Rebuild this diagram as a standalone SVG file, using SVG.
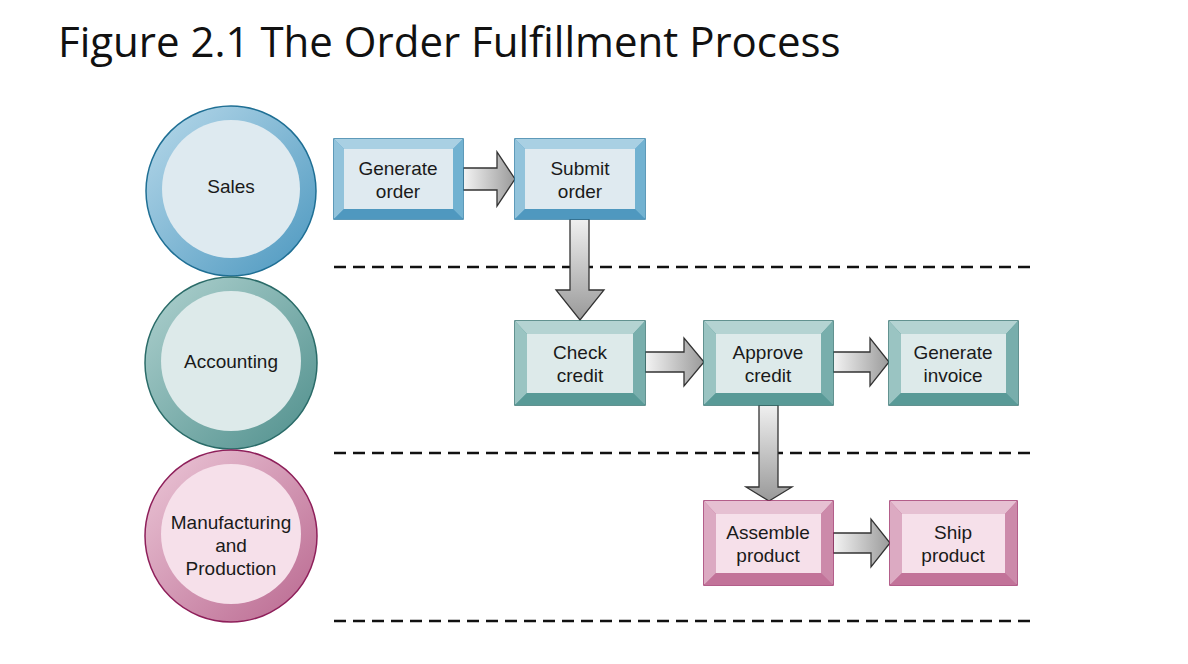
<svg xmlns="http://www.w3.org/2000/svg" width="1188" height="664" viewBox="0 0 1188 664">
<style>
text{font-family:"Liberation Sans",Arial,sans-serif;fill:#1a1a1a;text-anchor:middle}
.t{font-size:19px}
.dash{stroke:#111;stroke-width:2.5;stroke-dasharray:12 7;fill:none}
.arr{fill:url(#ag);stroke:#333;stroke-width:1.3}
.varr{fill:url(#vg);stroke:#333;stroke-width:1.3}
</style>
<defs>
<linearGradient id="ag" x1="0" y1="0" x2="1" y2="0"><stop offset="0" stop-color="#f4f4f4"/><stop offset="1" stop-color="#9a9a9a"/></linearGradient>
<linearGradient id="vg" x1="0" y1="0" x2="0" y2="1"><stop offset="0" stop-color="#f0f0f0"/><stop offset="1" stop-color="#999"/></linearGradient>
<linearGradient id="cb" x1="0" y1="0" x2="1" y2="1"><stop offset="0" stop-color="#b8d9ea"/><stop offset="1" stop-color="#4b97bf"/></linearGradient>
<linearGradient id="ct" x1="0" y1="0" x2="1" y2="1"><stop offset="0" stop-color="#b0d2d0"/><stop offset="1" stop-color="#4f8f8c"/></linearGradient>
<linearGradient id="cp" x1="0" y1="0" x2="1" y2="1"><stop offset="0" stop-color="#ecc8d8"/><stop offset="1" stop-color="#b9678f"/></linearGradient>
</defs>
<text x="58" y="57" style="font-family:'Open Sans','Noto Sans',sans-serif;font-size:42px;text-anchor:start;fill:#111">Figure 2.1 The Order Fulfillment Process</text>

<g id="lane-lines">
<line class="dash" x1="334" y1="267" x2="1032" y2="267"/>
<line class="dash" x1="334" y1="453" x2="1032" y2="453"/>
<line class="dash" x1="334" y1="621" x2="1032" y2="621"/>
</g>

<g id="sales"><circle cx="231" cy="191" r="85" fill="url(#cb)" stroke="#1f6f94" stroke-width="1.5"/><circle cx="231" cy="189" r="69" fill="#deeaf0"/><text class="t" x="231" y="193">Sales</text></g>
<g id="accounting"><circle cx="231" cy="363" r="86" fill="url(#ct)" stroke="#2a6b68" stroke-width="1.5"/><circle cx="231" cy="361" r="70" fill="#ddeaea"/><text class="t" x="231" y="368">Accounting</text></g>
<g id="manufacturing"><circle cx="231" cy="536" r="86" fill="url(#cp)" stroke="#8e1f5a" stroke-width="1.5"/><circle cx="231" cy="534" r="70" fill="#f6e0ea"/><text class="t" x="231" y="529">Manufacturing</text><text class="t" x="231" y="552">and</text><text class="t" x="231" y="575">Production</text></g>

<g id="connectors">
<path class="arr" d="M463,168 H497 V152 L515,179 L497,206 V190 H463 Z"/>
<path class="varr" d="M570,219 V290 H556 L580,320 L604,290 H589 V219 Z"/>
<path class="arr" d="M645,352 H684 V338 L704,362 L684,386 V372 H645 Z"/>
<path class="arr" d="M833,352 H870 V338 L889,362 L870,386 V372 H833 Z"/>
<path class="varr" d="M759,405 V487 H746 L769,501 L792,487 H778 V405 Z"/>
<path class="arr" d="M833,533 H871 V519 L890,543 L871,567 V553 H833 Z"/>
</g>

<!-- box helper: outer x,y,w,h ; bevel 10 -->
<g id="generate-order">
<rect x="334" y="139" width="129" height="80" fill="#5aa3c8" stroke="#2a7aa2" stroke-width="1.5"/>
<polygon points="334,139 463,139 453,149 344,149" fill="#a9d0e3"/>
<polygon points="334,139 344,149 344,209 334,219" fill="#92c3db"/>
<polygon points="463,139 453,149 453,209 463,219" fill="#72b2d1"/>
<polygon points="334,219 344,209 453,209 463,219" fill="#4f98bf"/>
<rect x="344" y="149" width="109" height="60" fill="#dfeaf0"/>
<text class="t" x="398" y="175">Generate</text><text class="t" x="398" y="198">order</text></g>

<g id="submit-order">
<rect x="515" y="139" width="130" height="80" fill="#5aa3c8" stroke="#2a7aa2" stroke-width="1.5"/>
<polygon points="515,139 645,139 635,149 525,149" fill="#a9d0e3"/>
<polygon points="515,139 525,149 525,209 515,219" fill="#92c3db"/>
<polygon points="645,139 635,149 635,209 645,219" fill="#72b2d1"/>
<polygon points="515,219 525,209 635,209 645,219" fill="#4f98bf"/>
<rect x="525" y="149" width="110" height="60" fill="#dfeaf0"/>
<text class="t" x="580" y="175">Submit</text><text class="t" x="580" y="198">order</text></g>

<g id="check-credit">
<rect x="515" y="321" width="130" height="84" fill="#5e9e9c" stroke="#2f6f6c" stroke-width="1.5"/>
<polygon points="515,321 645,321 633,334 527,334" fill="#b4d3d2"/>
<polygon points="515,321 527,334 527,393 515,405" fill="#9ac4c2"/>
<polygon points="645,321 633,334 633,393 645,405" fill="#78aeac"/>
<polygon points="515,405 527,393 633,393 645,405" fill="#599a97"/>
<rect x="527" y="334" width="106" height="59" fill="#ddeaea"/>
<text class="t" x="580" y="359">Check</text><text class="t" x="580" y="382">credit</text></g>

<g id="approve-credit">
<rect x="704" y="321" width="129" height="84" fill="#5e9e9c" stroke="#2f6f6c" stroke-width="1.5"/>
<polygon points="704,321 833,321 821,334 716,334" fill="#b4d3d2"/>
<polygon points="704,321 716,334 716,393 704,405" fill="#9ac4c2"/>
<polygon points="833,321 821,334 821,393 833,405" fill="#78aeac"/>
<polygon points="704,405 716,393 821,393 833,405" fill="#599a97"/>
<rect x="716" y="334" width="105" height="59" fill="#ddeaea"/>
<text class="t" x="768" y="359">Approve</text><text class="t" x="768" y="382">credit</text></g>

<g id="generate-invoice">
<rect x="889" y="321" width="129" height="84" fill="#5e9e9c" stroke="#2f6f6c" stroke-width="1.5"/>
<polygon points="889,321 1018,321 1006,334 901,334" fill="#b4d3d2"/>
<polygon points="889,321 901,334 901,393 889,405" fill="#9ac4c2"/>
<polygon points="1018,321 1006,334 1006,393 1018,405" fill="#78aeac"/>
<polygon points="889,405 901,393 1006,393 1018,405" fill="#599a97"/>
<rect x="901" y="334" width="105" height="59" fill="#ddeaea"/>
<text class="t" x="953" y="359">Generate</text><text class="t" x="953" y="382">invoice</text></g>

<g id="assemble-product">
<rect x="704" y="501" width="129" height="84" fill="#c57a9e" stroke="#9a2a64" stroke-width="1.5"/>
<polygon points="704,501 833,501 821,514 716,514" fill="#e6c0d2"/>
<polygon points="704,501 716,514 716,573 704,585" fill="#dcaac2"/>
<polygon points="833,501 821,514 821,573 833,585" fill="#cc8aaa"/>
<polygon points="704,585 716,573 821,573 833,585" fill="#c27399"/>
<rect x="716" y="514" width="105" height="59" fill="#f6e0ea"/>
<text class="t" x="768" y="539">Assemble</text><text class="t" x="768" y="562">product</text></g>

<g id="ship-product">
<rect x="890" y="501" width="127" height="84" fill="#c57a9e" stroke="#9a2a64" stroke-width="1.5"/>
<polygon points="890,501 1017,501 1005,514 902,514" fill="#e6c0d2"/>
<polygon points="890,501 902,514 902,573 890,585" fill="#dcaac2"/>
<polygon points="1017,501 1005,514 1005,573 1017,585" fill="#cc8aaa"/>
<polygon points="890,585 902,573 1005,573 1017,585" fill="#c27399"/>
<rect x="902" y="514" width="103" height="59" fill="#f6e0ea"/>
<text class="t" x="953" y="539">Ship</text><text class="t" x="953" y="562">product</text></g>
</svg>
